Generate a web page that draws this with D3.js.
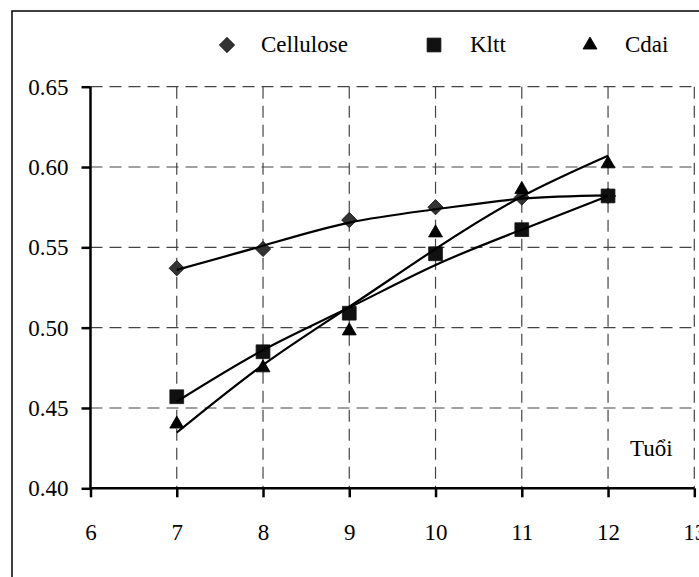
<!DOCTYPE html>
<html>
<head>
<meta charset="utf-8">
<script src="https://cdn.jsdelivr.net/npm/d3@7"></script>
<style>
  body { margin: 0; background: #fff; }
  svg { display: block; }
  svg text { font-family: 'Liberation Serif', 'DejaVu Serif', 'Times New Roman', serif; font-size: 23px; fill: #000; }
</style>
</head>
<body>
<div id="chart"></div>
<script>
// Data
const ages = [7, 8, 9, 10, 11, 12];
const cellulose = [0.537, 0.549, 0.567, 0.575, 0.581, 0.582];
const kltt = [0.457, 0.485, 0.509, 0.546, 0.561, 0.582];
const cdai = [0.440, 0.475, 0.498, 0.559, 0.586, 0.602];

// trend lines
const celluloseTrend = [0.536, 0.551, 0.5654, 0.5737, 0.5803, 0.5824];
const klttTrend = [0.454, 0.486, 0.5125, 0.539, 0.561, 0.582];
const cdaiTrend = [0.4347, 0.4768, 0.513, 0.549, 0.5816, 0.607];

const xTicks = [6, 7, 8, 9, 10, 11, 12, 13];
const yTicks = [0.40, 0.45, 0.50, 0.55, 0.60, 0.65];
const legendNames = ['Cellulose', 'Kltt', 'Cdai'];

const width = 699, height = 577;

const svg = d3.select('#chart')
  .append('svg')
  .attr('width', width)
  .attr('height', height);

// outer frame (runs off the right and bottom edges)
svg.append('rect')
  .attr('x', 12).attr('y', 11)
  .attr('width', 720).attr('height', 600)
  .attr('fill', 'none')
  .attr('stroke', '#000')
  .attr('stroke-width', 1.5);

const x = d3.scaleLinear().domain([6, 13]).range([90.5, 694.3]);
const y = d3.scaleLinear().domain([0.40, 0.65]).range([488.3, 86.7]);

// Grid
const grid = svg.append('g')
  .attr('stroke', '#444')
  .attr('stroke-width', 1.2)
  .attr('stroke-dasharray', '12,7');

grid.selectAll('line.h')
  .data(yTicks.slice(1))
  .join('line')
  .attr('class', 'h')
  .attr('x1', x(6)).attr('x2', x(13))
  .attr('y1', d => y(d)).attr('y2', d => y(d));

grid.selectAll('line.v')
  .data(xTicks.slice(1))
  .join('line')
  .attr('class', 'v')
  .attr('x1', d => x(d)).attr('x2', d => x(d))
  .attr('y1', y(0.65)).attr('y2', y(0.40));

// Axes
const xAxis = svg.append('g')
  .attr('transform', `translate(0,${y(0.40)})`)
  .call(d3.axisBottom(x).tickValues(xTicks).tickFormat(d3.format('d')).tickSize(9).tickSizeOuter(0).tickPadding(26));

const yAxis = svg.append('g')
  .attr('transform', `translate(${x(6)},0)`)
  .call(d3.axisLeft(y).tickValues(yTicks).tickFormat(d3.format('.2f')).tickSize(9).tickSizeOuter(0).tickPadding(13));

[xAxis, yAxis].forEach(a => {
  a.attr('font-family', null).attr('font-size', null);
  a.select('.domain').attr('stroke', '#000').attr('stroke-width', 2.5);
  a.selectAll('.tick line').attr('stroke', '#000').attr('stroke-width', 2.5);
  a.selectAll('.tick text').attr('fill', '#000');
});
xAxis.select('.domain').attr('d', `M${x(6)},0H${x(13)}`);
yAxis.select('.domain').attr('d', `M0,${y(0.40) + 1}V${y(0.65)}`);

// Markers
const diamond = d3.symbol().type(d3.symbolDiamond2).size(150);
const square = d3.symbol().type(d3.symbolSquare).size(190);
const triangle = d3.symbol().type(d3.symbolTriangle).size(85);

const series = [
  { name: 'Cellulose', values: cellulose, trend: celluloseTrend, sym: diamond, fill: '#333', stroke: '#111' },
  { name: 'Kltt', values: kltt, trend: klttTrend, sym: square, fill: '#111', stroke: '#111' },
  { name: 'Cdai', values: cdai, trend: cdaiTrend, sym: triangle, fill: '#000', stroke: '#000' }
];

series.forEach(s => {
  svg.append('g')
    .selectAll('path')
    .data(ages.map((a, i) => [a, s.values[i]]))
    .join('path')
    .attr('d', s.sym)
    .attr('transform', d => `translate(${x(d[0])},${y(d[1])})`)
    .attr('fill', s.fill)
    .attr('stroke', s.stroke)
    .attr('stroke-width', 0.8);
});

// Trend lines on top
const line = d3.line()
  .x(d => x(d[0]))
  .y(d => y(d[1]))
  .curve(d3.curveNatural);

series.forEach(s => {
  svg.append('path')
    .datum(ages.map((a, i) => [a, s.trend[i]]))
    .attr('d', line)
    .attr('fill', 'none')
    .attr('stroke', '#000')
    .attr('stroke-width', 2.2);
});

// Legend
const legendX = [227, 434, 590];
const legendTextX = [261, 470, 625];
legendNames.forEach((name, i) => {
  const s = series[i];
  svg.append('path')
    .attr('d', s.sym)
    .attr('transform', `translate(${legendX[i]},45)`)
    .attr('fill', s.fill)
    .attr('stroke', s.stroke)
    .attr('stroke-width', 0.8);
  svg.append('text')
    .attr('x', legendTextX[i])
    .attr('y', 52)
    .text(name);
});

// axis title
svg.append('text')
  .attr('x', 630)
  .attr('y', 456)
  .text('Tuổi');
</script>
</body>
</html>
